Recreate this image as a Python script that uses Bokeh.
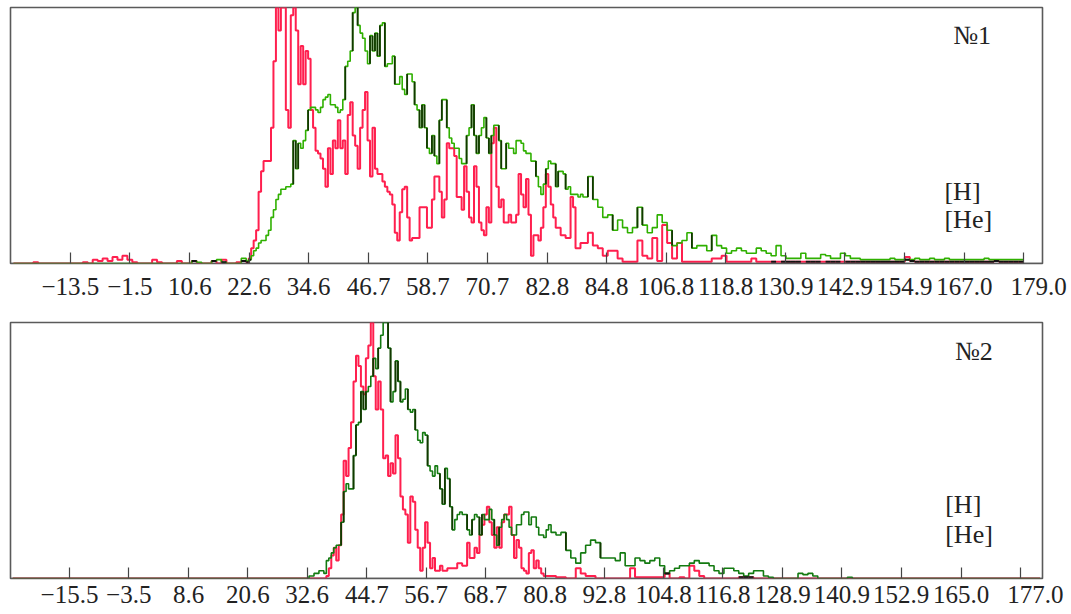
import numpy as np
from bokeh.plotting import figure
from bokeh.models import Range1d, FixedTicker, Label, Span
from bokeh.layouts import column
from bokeh.embed import file_html
from bokeh.resources import INLINE

# ---------------- data ----------------
# Each trace = left part (1-unit bins), middle part (0.5-unit bins), right part (1-unit bins)
# Panel 1
p1_left_start, p1_mid_start, p1_right_start = -25, 22.0, 92
red1_left = [0, 0, 0, 0, 0.5, 0, 0, 0, 0, 0,
             0, 0, 0, 0, 0.5, 0, 1.5, 1, 2, 1,
             2.5, 1.5, 3, 1.5, 0.5, 0, 0, 0, 1.5, 0.5,
             0, 0, 0, 1, 0, 0, 1, 0, 0, 0,
             1, 0, 1.5, 0, 0, 0.5, 1]
red1_mid = [0.5, 2, 6, 9, 13, 28, 36, 40, 40, 40,
            53, 79, 100, 91, 100, 100, 60, 53, 97, 100,
            91, 70, 85, 70, 83, 80, 60, 53, 44, 43,
            41, 37, 30, 45, 35, 48, 45, 56, 45, 48,
            35, 58, 63, 50, 46, 37, 53, 60, 67, 48,
            34, 53, 37, 35, 35, 32, 30, 28, 27, 23,
            12, 9, 20, 29, 30, 18, 9, 10, 10, 10,
            22, 22, 22, 14, 14, 25, 34, 34, 28, 18,
            25, 47, 45, 45, 42, 26, 26, 21, 38, 28,
            18, 16, 38, 30, 16, 13, 11, 22, 16, 47,
            53, 30, 22, 25, 16, 16, 19, 16, 16, 19,
            35, 27, 22, 33, 19, 3, 11, 11, 9, 14,
            22, 35, 30, 23, 18, 14, 14, 11, 11, 10,
            10, 26, 22, 6, 6, 8, 8, 8, 12, 12]
red1_right = [7, 6, 3,
              5, 5, 2, 0.7, 0.7, 0.7, 9, 3, 2, 10,
              1, 15, 8, 2, 8, 0.7, 0.7, 0.7, 0.7, 0.7,
              0.7, 2, 2, 3, 0.7, 0.7, 0.7, 0.7, 0.7, 2,
              0.7, 0.7, 0.7, 0.7, 0.7, 0.7, 0.7, 0.7, 0.7, 0.7,
              0.7, 0.7, 0.7, 0.7, 0.7, 0.7, 0.7, 0.7, 0.7, 0.7,
              0.7, 0.7, 0.7, 0.7, 0.7, 0.7, 0.7, 0.7, 0.7, 0.7,
              2.5, 1, 0.7, 0.7, 0.7, 0.7, 0.7, 0.7, 0.7, 0.7,
              0.7, 0.7, 0.7, 0.7, 0.7, 0.7, 0.7, 0.7, 1, 0.7,
              0.7, 0.7, 0.7, 0.7, 0.7]
green1_left = [0] * 36 + [1, 0.5, 0, 0, 1, 1.5, 0.5, 0, 0, 0, 2]
green1_mid = [1, 1.5, 3, 5, 6, 8, 9, 9, 11, 13,
              18, 21, 25, 27, 29, 29, 30, 30, 31, 48,
              37, 47, 45, 48, 52, 60, 61, 61, 60, 59,
              61, 64, 65, 66, 62, 62, 61, 59, 60, 64,
              77, 79, 83, 98, 100, 93, 90, 88, 83, 78,
              89, 83, 90, 81, 93, 94, 77, 78, 78, 81,
              70, 70, 73, 68, 66, 74, 74, 71, 62, 60,
              53, 62, 53, 45, 43, 50, 42, 39, 56, 64,
              64, 53, 49, 47, 45, 45, 41, 39, 39, 50,
              53, 62, 50, 43, 50, 53, 57, 49, 43, 50,
              54, 54, 48, 37, 37, 47, 45, 45, 43, 48,
              48, 47, 44, 43, 43, 40, 40, 34, 30, 27,
              31, 37, 40, 39, 39, 30, 36, 36, 35, 29,
              30, 27, 27, 27, 26, 27, 26, 26, 34, 34]
green1_right = [25, 22, 18,
                19, 13, 17, 14, 12, 14, 22, 15, 12, 14,
                19, 16, 13, 7, 8, 9, 12, 6, 7, 7,
                5, 11, 7, 6, 4, 5, 6, 5, 4, 4,
                6, 5, 4, 3, 7, 3, 2, 2, 2, 4,
                2, 2, 2, 3.5, 3, 2, 2, 4, 3, 2,
                2, 1.5, 1.5, 1.5, 1.5, 1.5, 1.5, 2, 1.5, 1.5,
                1.5, 1.5, 2, 1.5, 1.5, 2, 1.5, 1.5, 2, 1.5,
                1.5, 1.5, 1.5, 1.5, 1.5, 1.5, 2, 1.5, 1.5, 1.5,
                1.5, 1.5, 1.5, 1.5, 1.5]

# Panel 2
p2_left_start, p2_mid_start, p2_right_start = -27, 36.0, 82
red2_left = [0] * 63
red2_mid = [0, 1, 4, 9, 12, 7, 13, 25, 46, 40,
            51, 61, 77, 87, 83, 75, 72, 86, 91, 100,
            79, 66, 77, 66, 47, 48, 40, 45, 41, 56,
            47, 32, 27, 25, 14, 32, 30, 19, 12, 3,
            12, 22, 14, 4, 8, 3, 3, 5, 3, 3,
            4, 4, 4, 4, 6, 6, 5, 5, 14, 8,
            8, 12, 10, 17, 21, 25, 28, 22, 17, 12,
            20, 12, 22, 25, 25, 28, 17, 8, 15, 12,
            4, 3, 2, 10, 11, 4, 7, 4, 2, 1,
            1, 1]
red2_right = [1,
              0.5, 0.5, 0, 0, 4, 2, 1, 1, 0, 0,
              0, 0, 0, 0, 0, 4, 0.5, 0.5, 0.5, 0.5,
              0.5, 0.5, 2, 0, 0, 0.5, 0, 5, 3, 1,
              0, 0, 0, 0, 0, 0, 0, 0.5, 0.5, 0.5] + [0] * 59
green2_left = [0] * 60 + [1, 2, 3]
green2_mid = [2, 7, 8, 10, 12, 13, 13, 22, 34, 37,
              35, 35, 48, 60, 61, 73, 66, 73, 75, 79,
              86, 82, 90, 95, 100, 100, 90, 69, 73, 85,
              77, 69, 70, 74, 66, 65, 66, 58, 54, 53,
              57, 56, 44, 42, 40, 44, 41, 35, 29, 43,
              39, 28, 19, 23, 25, 26, 25, 25, 19, 17,
              23, 25, 24, 17, 25, 23, 23, 27, 23, 17,
              13, 20, 23, 25, 23, 20, 17, 17, 21, 21,
              25, 26, 26, 21, 24, 24, 20, 17, 17, 16,
              19, 21]
green2_right = [18,
                17, 18, 11, 8, 6, 10, 13, 15, 14, 8,
                8, 8, 7, 10, 5, 5, 8, 7, 6, 7,
                8, 5, 2, 3, 4, 5, 5, 6, 7, 6,
                6, 5, 3, 2, 4, 4, 3, 2, 1, 2,
                3, 3, 1, 0.5, 0, 0, 0, 0, 0, 2,
                1.5, 2, 1, 0, 0, 0, 0, 0, 0, 0.5] + [0] * 39

ticks1 = [-13.5, -1.5, 10.6, 22.6, 34.6, 46.7, 58.7, 70.7, 82.8, 94.8,
          106.8, 118.8, 130.9, 142.9, 154.9, 167.0, 179.0]
labels1 = ["\u221213.5", "\u22121.5", "10.6", "22.6", "34.6", "46.7", "58.7",
           "70.7", "82.8", "84.8", "106.8", "118.8", "130.9", "142.9",
           "154.9", "167.0", "179.0"]
ticks2 = [-15.5, -3.5, 8.6, 20.6, 32.6, 44.7, 56.7, 68.7, 80.8, 92.8,
          104.8, 116.8, 128.9, 140.9, 152.9, 165.0, 177.0]
labels2 = ["\u221215.5", "\u22123.5", "8.6", "20.6", "32.6", "44.7", "56.7",
           "68.7", "80.8", "92.8", "104.8", "116.8", "128.9", "140.9",
           "152.9", "165.0", "177.0"]
panel_names = ["\u21161", "\u21162"]
series_names = ["[H]", "[He]"]

FONT = "Liberation Serif"
FS = "25px"


def build(starts, left, mid, right):
    xl = starts[0] + np.arange(len(left), dtype=float)
    xm = starts[1] + 0.5 * np.arange(len(mid))
    xr = starts[2] + np.arange(len(right), dtype=float)
    x = np.concatenate([xl, xm, xr])
    y = np.array(list(left) + list(mid) + list(right), dtype=float)
    return x, y


def make_panel(starts, red_parts, green_parts, ticks, labels, name, xr, top,
               bottom, left, right, standoff, green_color, lab):
    p = figure(frame_width=1032, frame_height=256, output_backend="svg",
               toolbar_location=None, x_range=Range1d(*xr), y_range=Range1d(0, 100),
               y_axis_location=None, min_border_top=top, min_border_bottom=bottom,
               min_border_left=left, min_border_right=right)
    p.grid.visible = False
    p.outline_line_color = "#5a5a5a"
    p.outline_line_width = 1.6
    p.background_fill_color = "white"
    p.border_fill_color = "white"

    xr_, r = build(starts, *red_parts)
    xg_, g = build(starts, *green_parts)
    p.step(xr_, r, mode="after", line_color="#ff1f4e", line_width=2.0)
    p.step(xg_, g, mode="after", line_color=green_color, line_width=1.6)
    # dark vertical risers of the green trace
    jump = np.abs(np.diff(g))
    idx = np.where(jump >= 6)[0] + 1
    p.segment(x0=xg_[idx], x1=xg_[idx], y0=g[idx - 1], y1=g[idx],
              line_color="#123800", line_width=1.8)
    # dark trace where both curves lie at the baseline
    n = min(len(r), len(g))
    m = np.minimum(r[:n], g[:n])
    xnext = np.append(xg_[1:n], xg_[n - 1])
    sel = np.where((m > 0) & (np.maximum(r[:n], g[:n]) <= 3))[0]
    p.segment(x0=xg_[sel], x1=xnext[sel], y0=m[sel], y1=m[sel],
              line_color="#111111", line_width=2)
    # frame baseline drawn over the zero level
    p.add_layout(Span(location=0, dimension="width", line_color="#5a5a5a",
                      line_width=1.6))

    ax = p.xaxis[0]
    ax.ticker = FixedTicker(ticks=ticks)
    ov = {t: l for t, l in zip(ticks, labels)}
    ov[ticks[-1]] = "\u2002\u2002\u2009" + labels[-1]
    ax.major_label_overrides = ov
    ax.major_tick_in = 11
    ax.major_tick_out = 0
    ax.minor_tick_line_color = None
    ax.major_tick_line_color = "#444444"
    ax.major_tick_line_width = 1.2
    ax.axis_line_color = None
    ax.major_label_text_font = FONT
    ax.major_label_text_font_size = FS
    ax.major_label_text_color = "#222222"
    ax.major_label_standoff = standoff

    kw = dict(text_font=FONT, text_font_size="26px", text_color="#222222")
    p.add_layout(Label(x=lab["name_x"], y=lab["name_y"], text=name,
                       text_align="center", text_baseline="middle", **kw))
    p.add_layout(Label(x=lab["ser_x"], y=lab["h_y"], text=series_names[0],
                       text_align="left", text_baseline="middle", **kw))
    p.add_layout(Label(x=lab["ser_x"], y=lab["he_y"], text=series_names[1],
                       text_align="left", text_baseline="middle", **kw))
    return p


p1 = make_panel((p1_left_start, p1_mid_start, p1_right_start),
                (red1_left, red1_mid, red1_right),
                (green1_left, green1_mid, green1_right),
                ticks1, labels1, panel_names[0],
                (-25.6, 182.8), 7, 47, 10, 29, 9, "#2fb000",
                dict(name_x=168.6, name_y=89, ser_x=163.0, h_y=28.1, he_y=17.2))
p2 = make_panel((p2_left_start, p2_mid_start, p2_right_start),
                (red2_left, red2_mid, red2_right),
                (green2_left, green2_mid, green2_right),
                ticks2, labels2, panel_names[1],
                (-27.45, 181.5), 12, 36, 9, 30, 2, "#137a10",
                dict(name_x=167.6, name_y=88.7, ser_x=161.8, h_y=28.9, he_y=17.2))

layout = column(p1, p2, spacing=0)
open("out.html", "w").write(file_html(layout, INLINE))
